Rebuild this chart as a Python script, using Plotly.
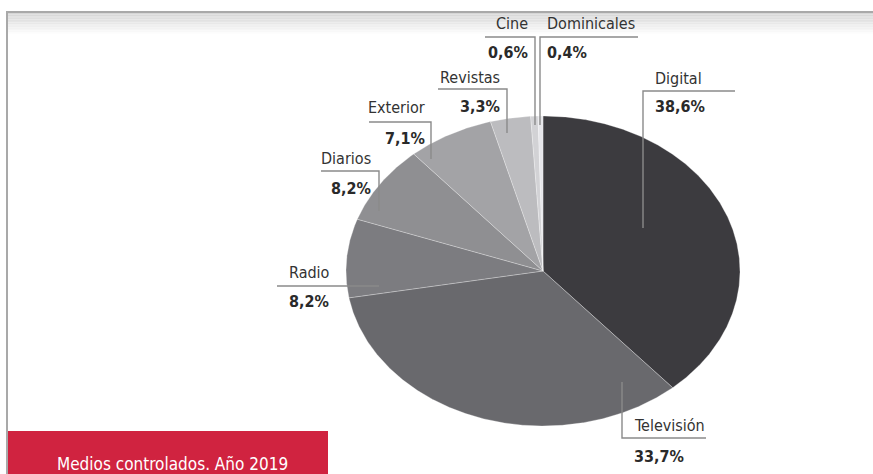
import numpy as np
import plotly.graph_objects as go

# Inversión publicitaria por medio (medios controlados, 2019)
medios = ["Digital", "Televisión", "Radio", "Diarios", "Exterior", "Revistas", "Cine", "Dominicales"]
cuotas = [38.6, 33.7, 8.2, 8.2, 7.1, 3.3, 0.6, 0.4]
colores = ["#3c3b3f", "#69696d", "#7c7c80", "#8f8f92", "#a3a3a6", "#bcbcbf", "#d2d2d5", "#e6e6ea"]

W, H = 873, 474
FONT = "DejaVu Sans Condensed, Liberation Sans Narrow, sans-serif"
TXT = "#333333"
LINE = "#8a8a8a"

fig = go.Figure()

# Sectores: se dibujan sobre un círculo unidad; el eje los achata en elipse
total = sum(cuotas)
inicio = 0.0
for medio, valor, color in zip(medios, cuotas, colores):
    fin = inicio + valor / total * 2 * np.pi
    t = np.linspace(inicio, fin, max(3, int((fin - inicio) / 0.005)))
    xs = np.concatenate([[0], np.sin(t), [0]])
    ys = np.concatenate([[0], np.cos(t), [0]])
    fig.add_trace(go.Scatter(
        x=xs, y=ys, mode="lines", fill="toself", fillcolor=color,
        line=dict(color="rgba(255,255,255,0.35)", width=0.8),
        name=medio, hoverinfo="name", showlegend=False,
    ))
    inicio = fin

cx, cy, rx, ry = 543, 271, 197, 155
fig.update_layout(
    width=W, height=H, margin=dict(l=0, r=0, t=0, b=0),
    paper_bgcolor="white", plot_bgcolor="rgba(0,0,0,0)",
    xaxis=dict(range=[-1, 1], domain=[(cx - rx) / W, (cx + rx) / W], visible=False, fixedrange=True),
    yaxis=dict(range=[-1, 1], domain=[1 - (cy + ry) / H, 1 - (cy - ry) / H], visible=False, fixedrange=True),
    # Capa en píxeles para rótulos y guías
    xaxis2=dict(range=[0, W], domain=[0, 1], visible=False, anchor="y2", fixedrange=True),
    yaxis2=dict(range=[H, 0], domain=[0, 1], visible=False, anchor="x2", fixedrange=True),
)
fig.add_trace(go.Scatter(x=[0], y=[0], xaxis="x2", yaxis="y2", mode="markers",
                         marker=dict(opacity=0), hoverinfo="skip", showlegend=False))

shapes = []
# Marco: línea superior con sombra degradada y línea izquierda
for i in range(14):
    g = int(214 + (255 - 214) * i / 13)
    shapes.append(dict(type="rect", xref="x2", yref="y2", x0=6, x1=W, y0=13 + i * 1.6, y1=13 + (i + 1) * 1.6,
                       line=dict(width=0), fillcolor=f"rgb({g},{g},{g})", layer="below"))
shapes.append(dict(type="line", xref="x2", yref="y2", x0=6, x1=W, y0=12, y1=12,
                   line=dict(color="#a9a9a9", width=2)))
shapes.append(dict(type="line", xref="x2", yref="y2", x0=7, x1=7, y0=11, y1=H,
                   line=dict(color="#a9a9a9", width=2)))
# Banda roja inferior
shapes.append(dict(type="rect", xref="x2", yref="y2", x0=8, x1=328, y0=431, y1=H,
                   line=dict(width=0), fillcolor="#d02340"))

# Guías de cada rótulo (segmentos en píxeles)
guias = [
    [(643, 228), (643, 91), (735, 91)],          # Digital
    [(622, 382), (622, 438), (706, 438)],        # Televisión
    [(277, 286), (379, 286)],                    # Radio
    [(321, 171), (379, 171), (379, 211)],        # Diarios
    [(369, 122), (431, 122), (431, 159)],        # Exterior
    [(438, 89), (507, 89), (507, 133)],          # Revistas
    [(485, 37), (535, 37), (535, 125)],          # Cine
    [(638, 37), (540, 37), (540, 125)],          # Dominicales
]
for g in guias:
    path = "M " + " L ".join(f"{x},{y}" for x, y in g)
    shapes.append(dict(type="path", xref="x2", yref="y2", path=path,
                       line=dict(color=LINE, width=1.4)))
fig.update_layout(shapes=shapes)

# Posición de nombre y porcentaje: (x, y_nombre, y_pct, anclaje)
rotulos = {
    "Digital": (653, 78, 106, "left"),
    "Televisión": (632, 425, 456, "left"),
    "Radio": (287, 272, 301, "left"),
    "Diarios": (373, 158, 188, "right"),
    "Exterior": (427, 107, 138, "right"),
    "Revistas": (438, 77, 106, "left"),
    "Cine": (530, 23, 52, "right"),
    "Dominicales": (545, 23, 52, "left"),
}
pct_x = {"Revistas": (502, "right"), "Cine": (530, "right")}
for medio, valor in zip(medios, cuotas):
    x, yn, yp, anc = rotulos[medio]
    fig.add_annotation(x=x, y=yn, xref="x2", yref="y2", text=medio, showarrow=False,
                       xanchor=anc, yanchor="middle",
                       font=dict(family=FONT, size=16, color=TXT))
    px, pa = pct_x.get(medio, (x, anc))
    fig.add_annotation(x=px, y=yp, xref="x2", yref="y2",
                       text="<b>" + f"{valor:.1f}".replace(".", ",") + "%</b>",
                       showarrow=False, xanchor=pa, yanchor="middle",
                       font=dict(family=FONT, size=16, color="#2a2a2a"))

fig.add_annotation(x=172, y=464, xref="x2", yref="y2", text="Medios controlados. Año 2019",
                   showarrow=False, xanchor="center", yanchor="middle",
                   font=dict(family=FONT, size=17, color="white"))

fig.write_html("out.html")
